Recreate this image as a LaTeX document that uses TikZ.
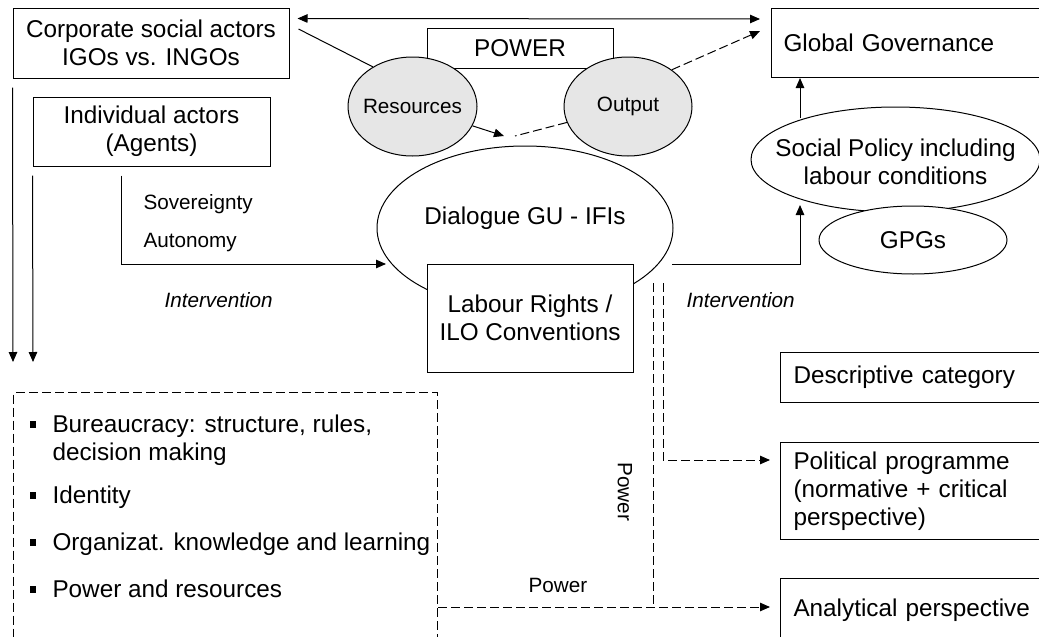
\documentclass[tikz,border=0pt]{standalone}
\usepackage{fontspec}
\setmainfont{Liberation Sans}
\usetikzlibrary{shapes.geometric,arrows.meta,calc}
\definecolor{ellgray}{HTML}{E6E6E6}
\newcommand\sqbul{\llap{\rule[4.5pt]{6.5pt}{6.5pt}\hspace{16.5pt}}}
\begin{document}
\begin{tikzpicture}[x=1pt,y=-1pt,
  line width=1pt,
  big/.style={font=\fontsize{24.3}{28}\selectfont},
  small/.style={font=\fontsize{20.7}{24}\selectfont},
  smallit/.style={font=\fontsize{20.7}{24}\selectfont\itshape},
  box/.style={draw, rectangle, inner sep=0pt, big, align=center},
  rbox/.style={draw, rectangle, inner sep=0pt, inner xsep=13pt, big, align=left, anchor=north west, text width=239pt},
  ell/.style={draw, ellipse, inner sep=0pt},
  tip/.style={-{Triangle[length=10pt,width=8.5pt]}},
  dsh/.style={dash pattern=on 9pt off 4pt},
]
\useasboundingbox (0,0) rectangle (1039,637);
\clip (0,0) rectangle (1039,637);

% boxes and ellipses
\node[box, minimum width=276pt, minimum height=70pt] (corp) at (151,43) {Corporate social actors\\IGOs vs. INGOs};
\node[box, minimum width=237pt, minimum height=69pt] (indiv) at (151.5,131.5) {Individual actors\\(Agents)};
\node[box, minimum width=186pt, minimum height=40pt] (power) at (520,48) {POWER};
\node[ell, fill=ellgray, minimum width=129pt, minimum height=99pt] (res) at (412.5,106.5) {};
\node[small] (restxt) at (res) {Resources};
\node[ell, fill=ellgray, minimum width=128pt, minimum height=99pt] (out) at (628,106.5) {};
\node[small] (outtxt) at (out) {Output};
\node[ell, minimum width=296pt, minimum height=164pt] (dial) at (525,228) {};
\node[big] (dialtxt) at (525,218) {Dialogue GU - IFIs};
\node[box, fill=white, minimum width=206pt, minimum height=108pt] (lab) at (530,318) {Labour Rights /\\ILO Conventions};

\node[rbox, minimum height=69pt, text width=250pt, inner xsep=12pt] (gg) at (771,8) {Global Governance};
\node[ell, minimum width=289pt, minimum height=105pt] (sp) at (895.5,159.5) {};
\node[big, align=center] (sptxt) at (895.5,162) {Social Policy including\\labour conditions};
\node[ell, fill=white, minimum width=188pt, minimum height=68pt] (gpg) at (913,240) {};
\node[big] (gpgtxt) at (gpg) {GPGs};

\node[rbox, minimum height=50pt] (desc) at (780,352) {Descriptive category};
\node[rbox, minimum height=97pt] (pol) at (780,442) {Political programme\\(normative + critical\\perspective)};
\node[rbox, minimum height=64pt] (ana) at (780,578) {Analytical perspective};

\node[draw, dsh, rectangle, anchor=north west, minimum width=424pt, minimum height=255pt, inner sep=0pt] (dbox) at (13,392) {};
\node[big, anchor=base west, inner sep=0pt] (b1) at (52,432) {\sqbul Bureaucracy: structure, rules,};
\node[big, anchor=base west, inner sep=0pt] (b1b) at (52,460) {decision making};
\node[big, anchor=base west, inner sep=0pt] (b2) at (52,503) {\sqbul Identity};
\node[big, anchor=base west, inner sep=0pt] (b3) at (52,550) {\sqbul Organizat. knowledge and learning};
\node[big, anchor=base west, inner sep=0pt] (b4) at (52,597) {\sqbul Power and resources};

% labels
\node[small, anchor=base west, inner sep=0pt] (sov) at (143,209) {Sovereignty};
\node[small, anchor=base west, inner sep=0pt] (aut) at (143,247) {Autonomy};
\node[smallit, anchor=base west, inner sep=0pt] (int1) at (164,307) {Intervention};
\node[smallit, anchor=base west, inner sep=0pt] (int2) at (686,307) {Intervention};
\node[small, rotate=-90, inner sep=0pt] (pv) at (625,492) {Power};
\node[small, anchor=base west, inner sep=0pt] (ph) at (528,592) {Power};

% coordinates
\coordinate (resTip) at (504,136);
\coordinate (outEnd) at (515,136);
\coordinate (ggIn) at ($(gg.west)+(-11,-12)$);
\coordinate (sovTop) at ($(indiv.south west)+(89,9)$);
\coordinate (dialIn) at (386,264);
\coordinate (left1) at ($(corp.south west)+(0,9)$);
\coordinate (left1end) at (13,362);
\coordinate (left2) at ($(indiv.south west)+(0,9)$);
\coordinate (left2end) at (33,362);
\coordinate (dialOut) at (672,264);
\coordinate (spIn) at (800,205);
\coordinate (spTop) at (800,118);
\coordinate (dA) at (653,283);
\coordinate (dB) at (663,283);
\coordinate (junc) at (653,607);
\coordinate (polIn) at (770,460);
\coordinate (anaIn) at (770,607);

% connectors
\draw[{Triangle[length=10pt,width=8.5pt]}-{Triangle[length=10pt,width=8.5pt]}] ($(corp.north east)+(8,11)$) -- ($(gg.north west)+(-11,11)$);
\draw ($(corp.east)+(9,-14)$) -- (res.135);
\draw[tip] (res) -- (resTip);
\draw[dsh] (out) -- (outEnd);
\draw[dsh, tip] (out.40) -- (ggIn);
\draw[tip] (sovTop) |- (dialIn);
\draw[tip] (left1) -- (left1end);
\draw[tip] (left2) -- (left2end);
\draw[tip] (dialOut) -| (spIn);
\draw[tip] (spTop) -- (spTop |- gg.south);
\draw[dsh] (dA) -- (junc);
\draw[dsh, tip] (dB) |- (polIn);
\draw[dsh, tip] (dbox.east |- junc) -- (anaIn);
\end{tikzpicture}
\end{document}
